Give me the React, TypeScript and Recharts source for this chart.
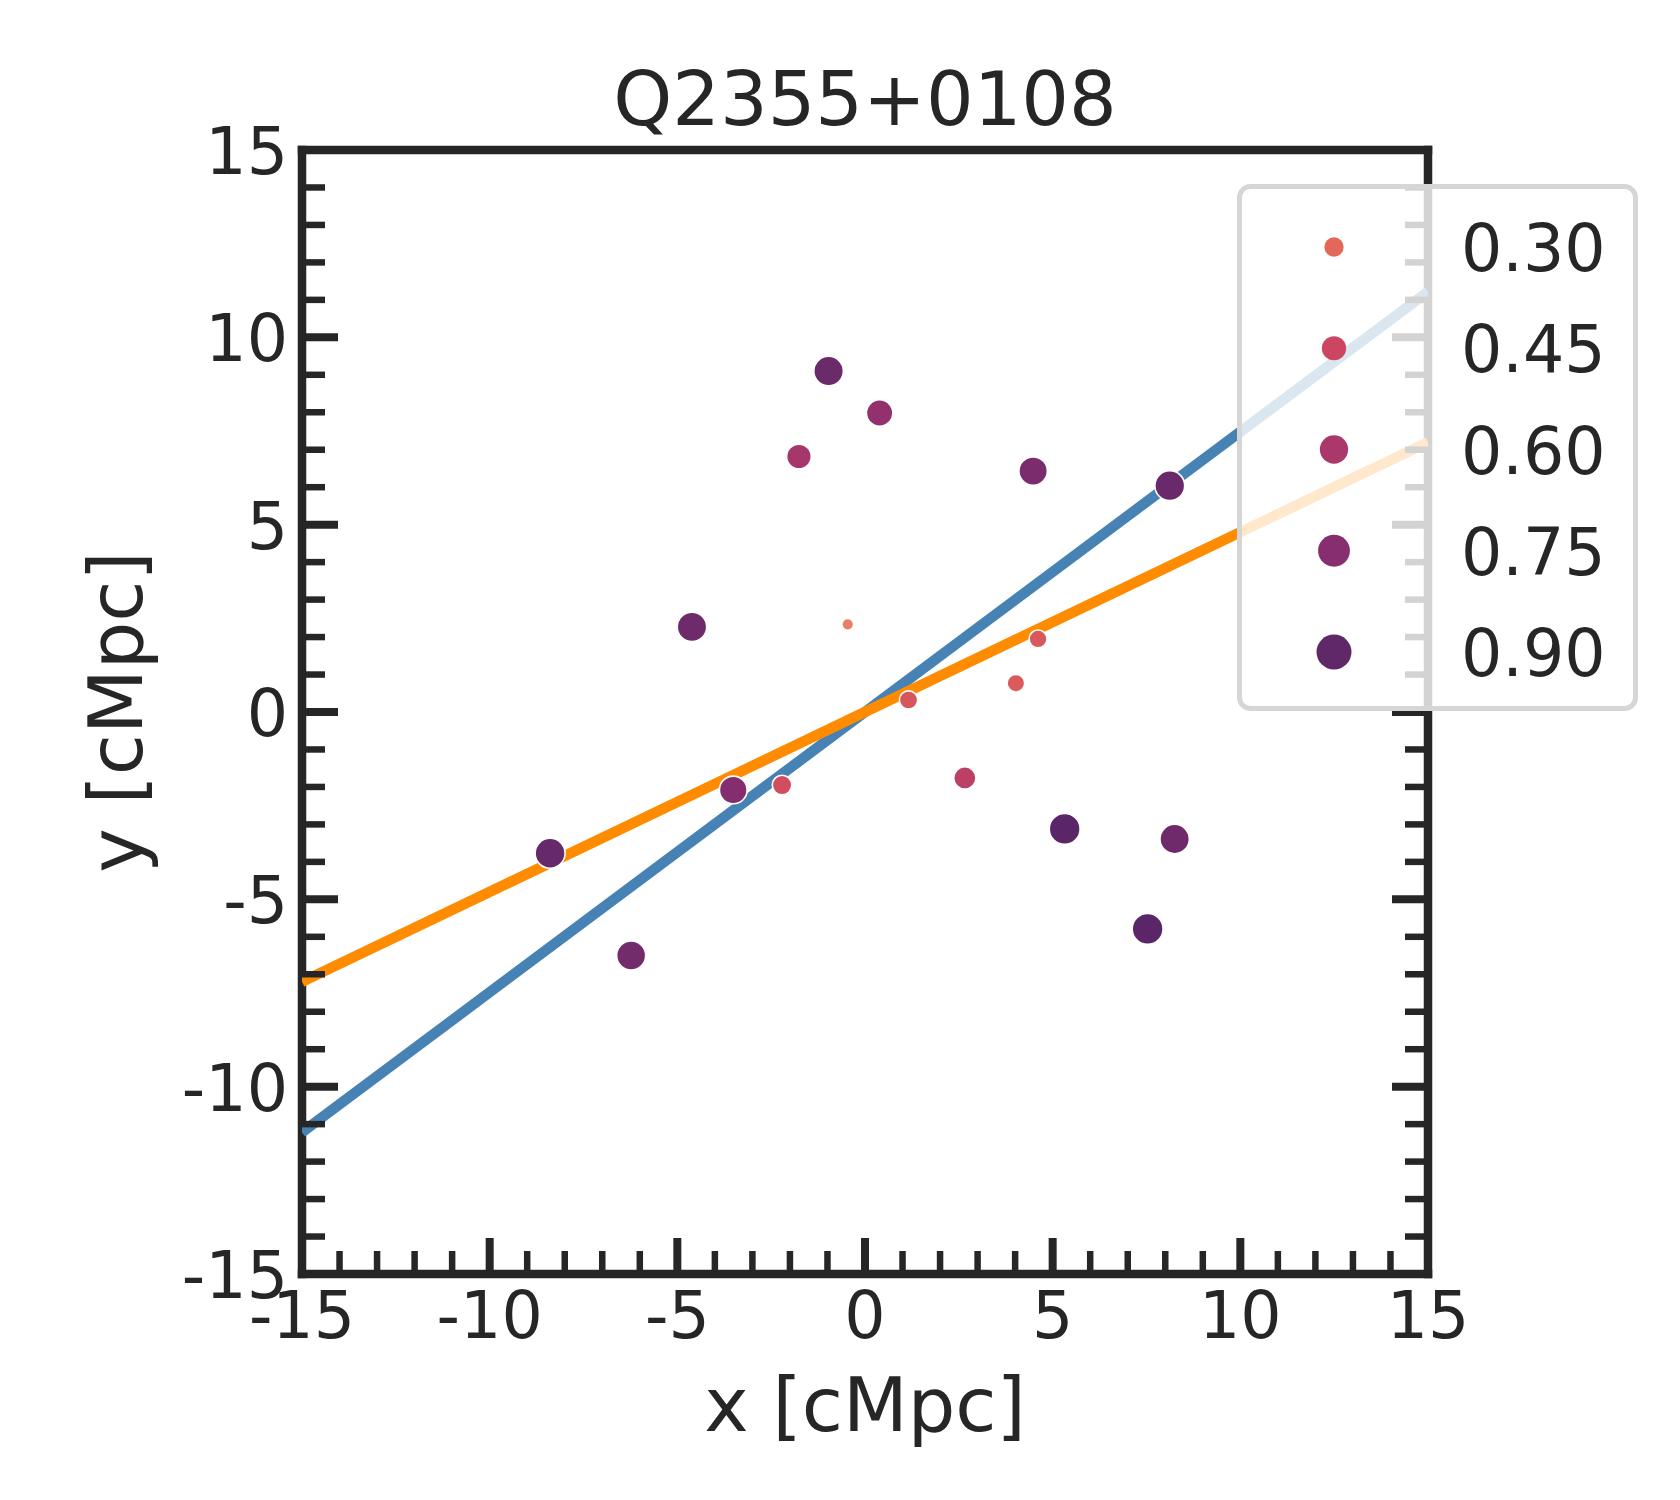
import React from 'react';
import { ScatterChart, Scatter, XAxis, YAxis, Legend } from 'recharts';

// ---------- data ----------
const pointX = [-0.97, 0.39, -1.76, 4.48, 8.12, -4.61, -0.46, 4.61, 4.02, 1.16, -3.51, -2.21, 2.66, 5.32, 8.25, -8.39, 7.53, -6.23];
const pointY = [9.10, 7.98, 6.82, 6.43, 6.04, 2.27, 2.34, 1.95, 0.77, 0.32, -2.08, -1.95, -1.76, -3.12, -3.39, -3.77, -5.79, -6.50];
const pointZ = [0.86, 0.70, 0.62, 0.80, 0.87, 0.85, 0.22, 0.37, 0.36, 0.38, 0.76, 0.42, 0.52, 0.93, 0.85, 0.88, 0.93, 0.83];

const blueLineX = [-15, 15];
const blueLineY = [-11.22, 11.22];
const orangeLineX = [-15, 15];
const orangeLineY = [-7.2, 7.2];

const legendValues = [0.30, 0.45, 0.60, 0.75, 0.90];
const legendLabels = ['0.30', '0.45', '0.60', '0.75', '0.90'];

const tickValues = [-15, -14, -13, -12, -11, -10, -9, -8, -7, -6, -5, -4, -3, -2, -1, 0, 1, 2, 3, 4, 5, 6, 7, 8, 9, 10, 11, 12, 13, 14, 15];
const majorTicks = [-15, -10, -5, 0, 5, 10, 15];
const majorTickLabels = ['-15', '-10', '-5', '0', '5', '10', '15'];

const titleText = 'Q2355+0108';
const xLabelText = 'x [cMpc]';
const yLabelText = 'y [cMpc]';

// ---------- styling ----------
const FONT = '"DejaVu Sans", "Liberation Sans", sans-serif';
const INK = '#262626';
const TICK_FONT = 65;
const LABEL_FONT = 75;

const paletteStops: [number, string][] = [
  [0.2, '#EC846A'],
  [0.3, '#E4685A'],
  [0.45, '#CC4662'],
  [0.6, '#AA386A'],
  [0.75, '#872E70'],
  [0.9, '#612868'],
  [1.0, '#4E2266'],
];

function hexToRgb(h: string) {
  const n = parseInt(h.slice(1), 16);
  return [(n >> 16) & 255, (n >> 8) & 255, n & 255];
}

function colorFor(z: number) {
  const s = paletteStops;
  if (z <= s[0][0]) return s[0][1];
  if (z >= s[s.length - 1][0]) return s[s.length - 1][1];
  for (let i = 0; i < s.length - 1; i++) {
    const [z0, c0] = s[i];
    const [z1, c1] = s[i + 1];
    if (z >= z0 && z <= z1) {
      const t = (z - z0) / (z1 - z0);
      const a = hexToRgb(c0);
      const b = hexToRgb(c1);
      const m = a.map((v, k) => Math.round(v + (b[k] - v) * t));
      return `rgb(${m[0]},${m[1]},${m[2]})`;
    }
  }
  return s[0][1];
}

function pointRadius(z: number) {
  return Math.sqrt(Math.max(16, 60 + 250 * (z - 0.38))) + 1.4;
}

function legendRadius(z: number) {
  return Math.sqrt(94 + 353 * (z - 0.3));
}

const points = pointX.map((x, i) => ({ x, y: pointY[i], z: pointZ[i] }));
const blueLine = blueLineX.map((x, i) => ({ x, y: blueLineY[i] }));
const orangeLine = orangeLineX.map((x, i) => ({ x, y: orangeLineY[i] }));

const PointShape = (props: any) => {
  const { cx, cy } = props;
  const p = props.payload ?? props;
  return (
    <circle cx={cx} cy={cy} r={pointRadius(p.z)} fill={colorFor(p.z)} stroke="#ffffff" strokeWidth={1.6} />
  );
};

const EmptyShape = () => <g />;

const MAJOR_LEN = 36;
const MINOR_LEN = 23;

function makeTick(side: 'bottom' | 'top' | 'left' | 'right') {
  return (props: any) => {
    const { x, y, payload } = props;
    const v = payload.value;
    const idx = majorTicks.indexOf(v);
    const major = idx >= 0;
    const len = major ? MAJOR_LEN : MINOR_LEN;
    const w = major ? 8 : 6.5;
    let x2 = x;
    let y2 = y;
    if (side === 'bottom') y2 = y - len;
    if (side === 'top') y2 = y + len;
    if (side === 'left') x2 = x + len;
    if (side === 'right') x2 = x - len;
    return (
      <g>
        <line x1={x} y1={y} x2={x2} y2={y2} stroke={INK} strokeWidth={w} />
        {major && side === 'bottom' && (
          <text x={x} y={y + 64} textAnchor="middle" fontSize={TICK_FONT} fontFamily={FONT} fill={INK}>
            {majorTickLabels[idx]}
          </text>
        )}
        {major && side === 'left' && (
          <text x={x - 14} y={y + 24} textAnchor="end" fontSize={TICK_FONT} fontFamily={FONT} fill={INK}>
            {majorTickLabels[idx]}
          </text>
        )}
      </g>
    );
  };
}

const BottomTick = makeTick('bottom');
const TopTick = makeTick('top');
const LeftTick = makeTick('left');
const RightTick = makeTick('right');

const XLabel = (props: any) => {
  const vb = props.viewBox || {};
  return (
    <text x={vb.x + vb.width / 2} y={vb.y + 157} textAnchor="middle" fontSize={LABEL_FONT} fontFamily={FONT} fill={INK}>
      {xLabelText}
    </text>
  );
};

const TitleLabel = (props: any) => {
  const vb = props.viewBox || {};
  const top = vb.y + (vb.height || 0);
  return (
    <text x={vb.x + vb.width / 2} y={top - 25} textAnchor="middle" fontSize={LABEL_FONT} fontFamily={FONT} fill={INK}>
      {titleText}
    </text>
  );
};

const YLabel = (props: any) => {
  const vb = props.viewBox || {};
  const lx = vb.x + (vb.width || 0) - 160;
  const ly = vb.y + vb.height / 2;
  return (
    <text x={lx} y={ly} transform={`rotate(-90 ${lx} ${ly})`} textAnchor="middle" fontSize={LABEL_FONT} fontFamily={FONT} fill={INK}>
      {yLabelText}
    </text>
  );
};

const LEGEND_W = 401;
const LEGEND_H = 527;
const LEGEND_ROW0 = 63;
const LEGEND_STEP = 101.25;

const LegendBox = () => (
  <svg width={LEGEND_W} height={LEGEND_H} style={{ display: 'block', overflow: 'visible' }}>
    <rect x={2.5} y={2.5} width={LEGEND_W - 5} height={LEGEND_H - 5} rx={11} ry={11} fill="#ffffff" fillOpacity={0.8} stroke="#d6d6d6" strokeWidth={5} />
    {legendValues.map((v, i) => (
      <g key={legendLabels[i]}>
        <circle cx={97} cy={LEGEND_ROW0 + i * LEGEND_STEP} r={legendRadius(v)} fill={colorFor(v)} />
        <text x={224} y={LEGEND_ROW0 + i * LEGEND_STEP + 24} fontSize={TICK_FONT} fontFamily={FONT} fill={INK}>
          {legendLabels[i]}
        </text>
      </g>
    ))}
  </svg>
);

const axisLineStyle = { stroke: INK, strokeWidth: 8.5, strokeLinecap: 'square' as const };

export default function App() {
  return (
    <div style={{ width: 1664, height: 1484, fontFamily: FONT, background: '#ffffff' }}>
      <ScatterChart width={1664} height={1484} margin={{ top: 141, right: 243, bottom: 217, left: 293 }}>
        <XAxis
          xAxisId={0}
          dataKey="x"
          type="number"
          domain={[-15, 15]}
          allowDataOverflow
          ticks={tickValues}
          interval={0}
          tickSize={0}
          tickMargin={0}
          tickLine={false}
          height={1}
          axisLine={axisLineStyle}
          tick={BottomTick}
          label={<XLabel />}
        />
        <XAxis
          xAxisId="top"
          orientation="top"
          type="number"
          domain={[-15, 15]}
          allowDataOverflow
          ticks={tickValues}
          interval={0}
          tickSize={0}
          tickMargin={0}
          tickLine={false}
          height={1}
          axisLine={axisLineStyle}
          tick={TopTick}
          label={<TitleLabel />}
        />
        <YAxis
          yAxisId={0}
          dataKey="y"
          type="number"
          domain={[-15, 15]}
          allowDataOverflow
          ticks={tickValues}
          interval={0}
          tickSize={0}
          tickMargin={0}
          tickLine={false}
          width={1}
          axisLine={axisLineStyle}
          tick={LeftTick}
          label={<YLabel />}
        />
        <YAxis
          yAxisId="right"
          orientation="right"
          type="number"
          domain={[-15, 15]}
          allowDataOverflow
          ticks={tickValues}
          interval={0}
          tickSize={0}
          tickMargin={0}
          tickLine={false}
          width={1}
          axisLine={axisLineStyle}
          tick={RightTick}
        />
        <Scatter
          data={blueLine}
          xAxisId={0}
          yAxisId={0}
          fill="#4682B4"
          line={{ stroke: '#4682B4', strokeWidth: 10.5 }}
          shape={EmptyShape}
          isAnimationActive={false}
        />
        <Scatter
          data={orangeLine}
          xAxisId={0}
          yAxisId={0}
          fill="#FF8C00"
          line={{ stroke: '#FF8C00', strokeWidth: 10.5 }}
          shape={EmptyShape}
          isAnimationActive={false}
        />
        <Scatter data={points} xAxisId={0} yAxisId={0} fill="#612868" shape={PointShape} isAnimationActive={false} />
        <Legend
          layout="horizontal"
          verticalAlign="middle"
          align="center"
          content={LegendBox}
          wrapperStyle={{ left: 1229, top: 176, width: LEGEND_W, height: LEGEND_H, right: 'auto', bottom: 'auto' }}
        />
      </ScatterChart>
    </div>
  );
}
